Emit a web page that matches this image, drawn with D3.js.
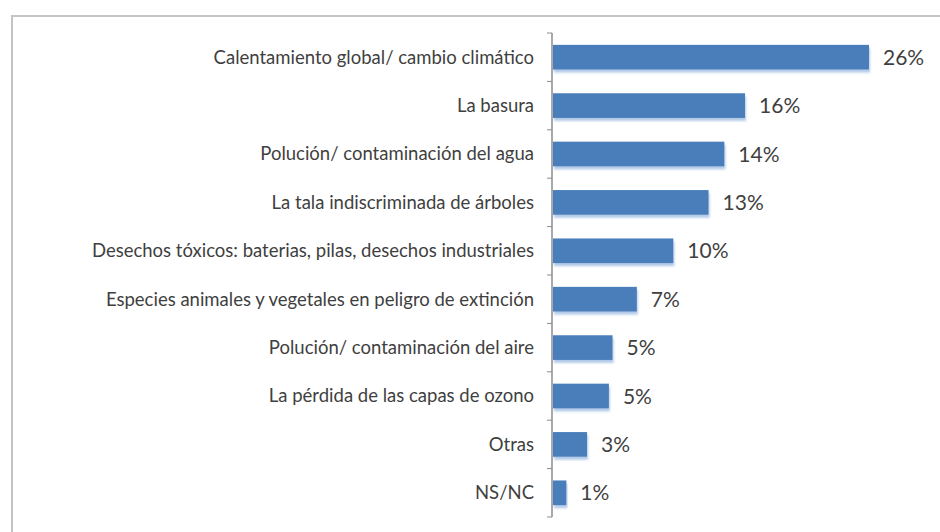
<!DOCTYPE html>
<html>
<head>
<meta charset="utf-8">
<script src="https://cdn.jsdelivr.net/npm/d3@7"></script>
<style>
    body { margin: 0; background: #fff; }
    .cat-label { font-family: Lato, "Open Sans", sans-serif; font-size: 18.5px; fill: #3f3f3f; }
    .val-label { font-family: Lato, "Open Sans", sans-serif; font-size: 21px; fill: #3f3f3f; }
</style>
</head>
<body>
<svg id="chart"></svg>
<script>
// categories, top to bottom
const categories = [
    'Calentamiento global/ cambio climático',
    'La basura',
    'Polución/ contaminación del agua',
    'La tala indiscriminada de árboles',
    'Desechos tóxicos: baterias, pilas, desechos industriales',
    'Especies animales y vegetales en peligro de extinción',
    'Polución/ contaminación del aire',
    'La pérdida de las capas de ozono',
    'Otras',
    'NS/NC'
];
// percentages
const values = [26, 15.8, 14.1, 12.8, 9.9, 6.9, 4.9, 4.6, 2.8, 1.1];
// printed labels
const valueLabels = ['26%', '16%', '14%', '13%', '10%', '7%', '5%', '5%', '3%', '1%'];

const width = 940, height = 532;
const margin = { top: 33, left: 552, bottom: 15 };

const data = categories.map((c, i) => ({ key: c, value: values[i], label: valueLabels[i] }));

const svg = d3.select('#chart')
    .attr('width', width)
    .attr('height', height);

// light drop shadow under bars
const defs = svg.append('defs');
const shadow = defs.append('filter').attr('id', 'shadow')
    .attr('x', '-5%').attr('y', '-20%').attr('width', '115%').attr('height', '160%');
shadow.append('feDropShadow')
    .attr('dx', 1).attr('dy', 3).attr('stdDeviation', 1.2)
    .attr('flood-color', '#a9c4e6').attr('flood-opacity', 0.9);

// outer frame (top and left edges only visible)
svg.append('path')
    .attr('d', `M12,${height} V16 H${width}`)
    .attr('fill', 'none')
    .attr('stroke', '#c4c4c4')
    .attr('stroke-width', 2);

const yScale = d3.scaleBand()
    .domain(categories)
    .range([margin.top, height - margin.bottom])
    .paddingInner(0.49)
    .paddingOuter(0.245);

const xScale = d3.scaleLinear()
    .domain([0, 26])
    .range([margin.left + 1, 869]);

// bars
svg.append('g').selectAll('rect')
    .data(data)
    .join('rect')
    .attr('x', xScale(0))
    .attr('y', d => yScale(d.key))
    .attr('width', d => xScale(d.value) - xScale(0))
    .attr('height', yScale.bandwidth())
    .attr('fill', '#4a7ebb')
    .attr('filter', 'url(#shadow)');

// value labels
svg.append('g').selectAll('text')
    .data(data)
    .join('text')
    .attr('class', 'val-label')
    .attr('x', d => xScale(d.value) + 14)
    .attr('y', d => yScale(d.key) + yScale.bandwidth() / 2)
    .attr('dy', '0.36em')
    .text(d => d.label);

// vertical axis with ticks between the categories
const step = yScale.step();
const tickYs = d3.range(categories.length + 1).map(i => yScale.range()[0] + i * step);

const axisG = svg.append('g');
axisG.append('line')
    .attr('x1', margin.left).attr('x2', margin.left)
    .attr('y1', yScale.range()[0]).attr('y2', yScale.range()[1])
    .attr('stroke', '#8c8c8c').attr('stroke-width', 1.5);
axisG.selectAll('.tick')
    .data(tickYs)
    .join('line')
    .attr('class', 'tick')
    .attr('x1', margin.left - 5).attr('x2', margin.left)
    .attr('y1', d => d).attr('y2', d => d)
    .attr('stroke', '#8c8c8c').attr('stroke-width', 1);

// category labels
axisG.selectAll('.cat-label')
    .data(categories)
    .join('text')
    .attr('class', 'cat-label')
    .attr('text-anchor', 'end')
    .attr('x', margin.left - 18)
    .attr('y', d => yScale(d) + yScale.bandwidth() / 2)
    .attr('dy', '0.35em')
    .text(d => d);
</script>
</body>
</html>
